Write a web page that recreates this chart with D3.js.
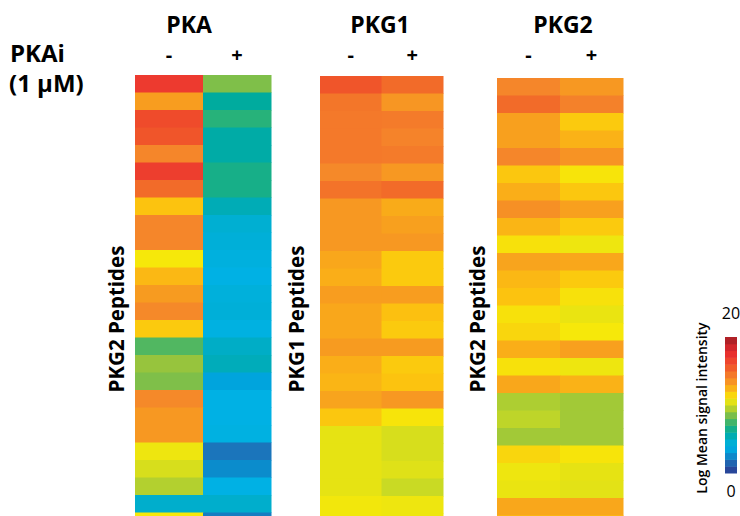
<!DOCTYPE html>
<html>
<head>
<meta charset="utf-8">
<script src="https://cdn.jsdelivr.net/npm/d3@7"></script>
<style>
  body { margin: 0; background: #fff; }
  text { font-family: "Open Sans", sans-serif; fill: #000; }
</style>
</head>
<body>
<svg width="740" height="516"></svg>
<script>
// treatment columns
var treatments = ['-', '+'];

// peptide rows (top to bottom)
var peptides = d3.range(1, 27);

// log mean signal intensity
var pkaMinus = [17, 13.1, 16.2, 15.8, 14, 16.8, 15, 12, 14, 14, 11, 12.3, 13.2,
    13.9, 11.8, 7.8, 9, 8.6, 13.9, 13.3, 13.3, 10.8, 10.2, 9.5, 4.8, 11];
var pkaPlus = [8.6, 6, 7, 5.8, 5.8, 6.6, 6.6, 5.4, 4.6, 4.4, 4.2, 4, 4.3,
    4.4, 4.1, 5, 5.3, 3.4, 4, 4, 4.1, 2, 2.6, 4, 4.8, 2.2];
var pkg1Minus = [15.8, 14.6, 14.5, 14.5, 14.5, 13.9, 14.7, 13.3, 13.3, 13.3, 12.8, 12.6, 13.1,
    12.8, 12.8, 13.2, 12.6, 12.4, 12.9, 11.9, 10.6, 10.6, 10.6, 10.6, 10.9, 10.9];
var pkg1Plus = [15, 13.4, 14.4, 14.1, 14.4, 13.3, 15, 12.7, 13, 13.3, 11.8, 11.8, 13.1,
    12.1, 11.8, 13.2, 11.8, 12, 13.3, 11.1, 10.2, 10.2, 10.4, 9.9, 10.8, 10.8];
var pkg2Minus = [14, 15, 13, 13, 14, 11.9, 12.6, 13.6, 12.4, 11.2, 12.9, 12.3, 12,
    11.2, 11.5, 12.6, 11.2, 12.8, 9.4, 9.7, 9.2, 11.5, 10.8, 10.7, 12.8, 12];
var pkg2Plus = [13.3, 14.2, 11.8, 12.5, 13.5, 11.1, 11.9, 13, 11.8, 10.8, 12.8, 11.8, 11.2,
    10.7, 11, 13, 10.8, 12.5, 9.2, 9.2, 9.2, 11.1, 10.6, 10.5, 12.8, 12];

// colour ramp of the legend, from 0 up to 20
var rampColors = ['#2b3990', '#2453a4', '#1b75bb', '#009bd8', '#00b1e4', '#00adc6', '#00ab9e',
    '#27b27a', '#5bb85b', '#97c43d', '#cfdc21', '#f6e80a', '#fcc30f', '#f8a01e', '#f5862a',
    '#f26b29', '#ef4f2a', '#ed3a2f', '#e3262a', '#c1272d', '#9e1b20'];
var legendTicks = [0, 20];

var panels = [
    {title: 'PKA', yLabel: 'PKG2 Peptides', minus: pkaMinus, plus: pkaPlus},
    {title: 'PKG1', yLabel: 'PKG1 Peptides', minus: pkg1Minus, plus: pkg1Plus},
    {title: 'PKG2', yLabel: 'PKG2 Peptides', minus: pkg2Minus, plus: pkg2Plus}
];

var svg = d3.select('svg');

// layout per panel
var layout = [
    {x0: 135, x1: 271, top: 75, labelX: 117, titleX: 189},
    {x0: 320, x1: 443, top: 76, labelX: 297, titleX: 380},
    {x0: 497, x1: 623, top: 78, labelX: 478, titleX: 563}
];
var rowH = 17.5;

var color = d3.scaleLinear()
    .domain(d3.range(rampColors.length))
    .range(rampColors)
    .clamp(true);

// left-hand treatment label
svg.append('text')
    .attr('x', 10).attr('y', 62)
    .style('font-size', '24px').style('font-weight', 700)
    .text('PKAi');
svg.append('text')
    .attr('x', 9).attr('y', 92)
    .style('font-size', '24px').style('font-weight', 700)
    .text('(1 μM)');

panels.forEach(function(p, i) {
    var L = layout[i];
    var x = d3.scaleBand().domain(treatments).range([L.x0, L.x1]);
    var y = d3.scaleBand().domain(peptides).range([L.top, L.top + peptides.length * rowH]);

    var g = svg.append('g');

    var cells = [];
    peptides.forEach(function(r, j) {
        cells.push({row: r, col: '-', v: p.minus[j]});
        cells.push({row: r, col: '+', v: p.plus[j]});
    });

    g.selectAll('rect')
        .data(cells)
        .enter().append('rect')
        .attr('x', function(d) { return x(d.col); })
        .attr('y', function(d) { return y(d.row); })
        .attr('width', x.bandwidth() + 0.5)
        .attr('height', y.bandwidth() + 0.5)
        .attr('fill', function(d) { return color(d.v); });

    // column header: +/- treatment
    var ax = g.append('g')
        .attr('transform', 'translate(0,62)')
        .call(d3.axisTop(x).tickSize(0).tickPadding(0));
    ax.select('.domain').remove();
    ax.selectAll('text')
        .style('font-size', '20px').style('font-weight', 700)
        .attr('fill', '#000')
        .attr('font-family', null);

    svg.append('text')
        .attr('x', L.titleX)
        .attr('y', 32.5)
        .attr('text-anchor', 'middle')
        .style('font-size', '23px').style('font-weight', 700)
        .text(p.title);

    svg.append('text')
        .attr('transform', 'translate(' + [L.labelX + 7, 319] + ') rotate(-90)')
        .attr('text-anchor', 'middle')
        .style('font-size', '20.5px').style('font-weight', 700)
        .text(p.yLabel);
});

// colour legend
var legendY = d3.scaleLinear().domain([0, 20]).range([473, 337]);
var steps = d3.range(0, 20, 1);
svg.append('g').selectAll('rect')
    .data(steps)
    .enter().append('rect')
    .attr('x', 725)
    .attr('y', function(d) { return legendY(d + 1); })
    .attr('width', 12)
    .attr('height', function(d) { return legendY(d) - legendY(d + 1) + 0.5; })
    .attr('fill', function(d) { return color(d + 0.5); });

svg.selectAll('.legend-tick')
    .data(legendTicks)
    .enter().append('text')
    .attr('class', 'legend-tick')
    .attr('x', 731)
    .attr('y', function(d) { return d === 0 ? 497 : 319; })
    .attr('text-anchor', 'middle')
    .style('font-size', '16px')
    .text(function(d) { return d; });

svg.append('text')
    .attr('transform', 'translate(' + [707, 408] + ') rotate(-90)')
    .attr('text-anchor', 'middle')
    .style('font-size', '14px').style('font-weight', 600)
    .text('Log Mean signal intensity');
</script>
</body>
</html>
